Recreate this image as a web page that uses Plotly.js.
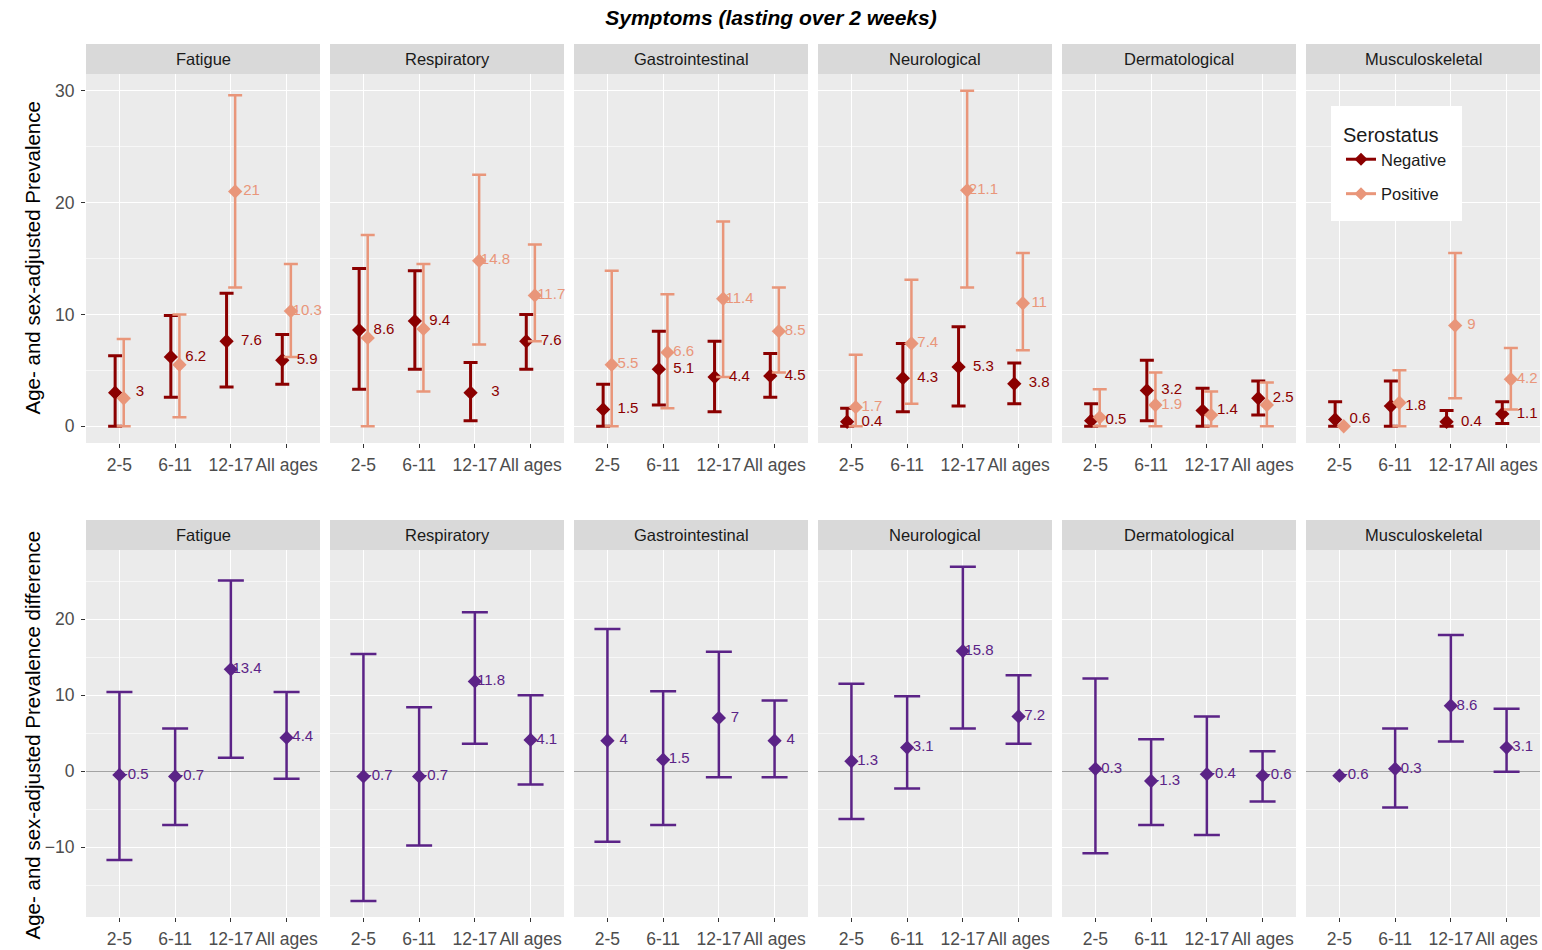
<!DOCTYPE html>
<html><head><meta charset="utf-8">
<script src="https://cdn.plot.ly/plotly-3.0.1.min.js"></script>
<style>html,body{margin:0;padding:0;background:#fff}#chart{width:1542px;height:950px}</style>
</head><body><div id="chart"></div>
<script>
// ---------------- DATA ----------------
const symptoms = ["Fatigue","Respiratory","Gastrointestinal","Neurological","Dermatological","Musculoskeletal"];
const ageGroups = ["2-5","6-11","12-17","All ages"];

// Seronegative prevalence (per symptom: 2-5, 6-11, 12-17, All ages)
const negValue = [[3,6.2,7.6,5.9],[8.6,9.4,3,7.6],[1.5,5.1,4.4,4.5],[0.4,4.3,5.3,3.8],[0.5,3.2,1.4,2.5],[0.6,1.8,0.4,1.1]];
const negLow   = [[0,2.6,3.5,3.75],[3.3,5.1,0.5,5.1],[0,1.9,1.3,2.6],[0,1.3,1.8,2.0],[0,0.5,0,1.0],[0,0,0,0.25]];
const negHigh  = [[6.3,9.9,11.9,8.2],[14.1,13.9,5.7,10.0],[3.75,8.5,7.6,6.5],[1.6,7.4,8.9,5.65],[2.0,5.9,3.4,4.05],[2.2,4.05,1.4,2.2]];

// Seropositive prevalence
const posValue = [[2.5,5.5,21,10.3],[7.9,8.7,14.8,11.7],[5.5,6.6,11.4,8.5],[1.7,7.4,21.1,11],[0.8,1.9,1.0,1.9],[0,2.1,9,4.2]];
const posLow   = [[0,0.8,12.4,6.2],[0,3.1,7.3,7.6],[0,1.6,4.4,4.8],[0,2.0,12.4,6.8],[0,0,0,0],[null,0,2.5,1.5]];
const posHigh  = [[7.8,10.0,29.6,14.5],[17.1,14.5,22.5,16.25],[13.9,11.8,18.3,12.4],[6.4,13.1,30.0,15.5],[3.3,4.8,3.1,3.9],[null,5.0,15.5,7.0]];

// Prevalence difference (positive - negative)
const diffValue = [[-0.5,-0.7,13.4,4.4],[-0.7,-0.7,11.8,4.1],[4,1.5,7,4],[1.3,3.1,15.8,7.2],[0.3,-1.3,-0.4,-0.6],[-0.6,0.3,8.6,3.1]];
const diffLow   = [[-11.7,-7.1,1.75,-1.0],[-17.1,-9.8,3.6,-1.75],[-9.3,-7.1,-0.8,-0.8],[-6.3,-2.3,5.6,3.6],[-10.8,-7.1,-8.4,-4.0],[null,-4.8,3.9,-0.1]];
const diffHigh  = [[10.4,5.6,25.1,10.4],[15.4,8.4,20.9,10.0],[18.7,10.5,15.7,9.3],[11.5,9.85,26.9,12.6],[12.2,4.2,7.2,2.6],[null,5.6,17.9,8.2]];

const seroNames = ["Negative","Positive"];

// ---------------- STYLE ----------------
const W = 1542, H = 950;
const FONT = '"Liberation Sans", Arial, sans-serif';
const NEG = '#8B0000', POS = '#E9967A', PURPLE = '#5B2387';
const DODGE = 0.077, LAB_TOP = 0.37, LAB_BOT = 0.29, LABEL_GAP = 1.0;
const PANEL_L = 86, PANEL_W = 234, PANEL_STEP = 244;
const TOP = {strip:[44,74], plot:[74,443], range:[-1.5,31.5]};
const BOT = {strip:[520,550], plot:[550,917], range:[-19.2,29.1]};
const TICK_SIZE = 17.5, STRIP_SIZE = 16.5, LABEL_SIZE = 15;

const cat = ageGroups.map((_, i) => i + 1);
const px = v => v / W, py = v => 1 - v / H;
const fmt = v => String(v);

function errObj(vals, lo, hi, color, thick, width) {
  return {
    type: 'data', symmetric: false, visible: true,
    array: vals.map((v, i) => hi[i] == null ? NaN : hi[i] - v),
    arrayminus: vals.map((v, i) => lo[i] == null ? NaN : v - lo[i]),
    color: color, thickness: thick, width: width
  };
}

const traces = [];
const layout = {
  width: W, height: H,
  margin: {l: 0, r: 0, t: 0, b: 0, autoexpand: false},
  paper_bgcolor: '#FFFFFF', plot_bgcolor: '#EBEBEB',
  font: {family: FONT, color: '#4D4D4D'},
  showlegend: true,
  title: {text: '<b><i>Symptoms (lasting over 2 weeks)</i></b>', x: 0.5, xanchor: 'center', xref: 'paper',
          y: 1 - 18 / H, yanchor: 'middle', yref: 'container', font: {family: FONT, size: 21, color: '#000000'}},
  legend: {x: px(1331), y: py(106), xanchor: 'left', yanchor: 'top', bgcolor: '#FFFFFF',
           bordercolor: '#FFFFFF', borderwidth: 10,
           title: {text: 'Serostatus ', font: {family: FONT, size: 20, color: '#1A1A1A'}},
           font: {family: FONT, size: 16.5, color: '#1A1A1A'}, itemwidth: 30, tracegroupgap: 10},
  shapes: [], annotations: []
};

function addAxes(idx, col, row) {
  const xs = idx === 1 ? 'xaxis' : 'xaxis' + idx;
  const ys = idx === 1 ? 'yaxis' : 'yaxis' + idx;
  const x0 = PANEL_L + col * PANEL_STEP;
  layout[xs] = {
    domain: [px(x0), px(x0 + PANEL_W)], anchor: 'y' + (idx === 1 ? '' : idx),
    range: [0.4, 4.6], tickmode: 'array', tickvals: cat, ticktext: ageGroups,
    showgrid: true, gridcolor: '#FFFFFF', gridwidth: 1.1, zeroline: false, showline: false,
    ticks: 'outside', ticklen: 4, tickwidth: 1, tickcolor: '#333333', ticklabelstandoff: 2,
    tickfont: {family: FONT, size: TICK_SIZE, color: '#4D4D4D'}, fixedrange: true
  };
  layout[ys] = {
    domain: [py(row.plot[1]), py(row.plot[0])], anchor: 'x' + (idx === 1 ? '' : idx),
    range: row.range, tickmode: 'linear', tick0: 0, dtick: 10,
    showgrid: true, gridcolor: '#FFFFFF', gridwidth: 1.1,
    minor: {dtick: 5, tick0: 0, showgrid: true, gridcolor: '#FAFAFA', gridwidth: 0.8, ticks: ''},
    zeroline: row === BOT, zerolinecolor: '#A3A3A3', zerolinewidth: 1.1, showline: false,
    showticklabels: col === 0, ticks: col === 0 ? 'outside' : '', ticklen: 4, tickwidth: 1, tickcolor: '#333333',
    ticklabelstandoff: 3,
    tickfont: {family: FONT, size: TICK_SIZE, color: '#4D4D4D'}, fixedrange: true
  };
  // strip
  layout.shapes.push({type: 'rect', xref: 'paper', yref: 'paper', layer: 'below',
    x0: px(x0), x1: px(x0 + PANEL_W), y0: py(row.strip[1]), y1: py(row.strip[0]),
    fillcolor: '#D9D9D9', line: {width: 0}});
  layout.annotations.push({xref: 'paper', yref: 'paper', x: px(x0 + PANEL_W / 2), y: py((row.strip[0] + row.strip[1]) / 2),
    xanchor: 'center', yanchor: 'middle', showarrow: false, text: symptoms[col],
    font: {family: FONT, size: STRIP_SIZE, color: '#1A1A1A'}});
  return {x: 'x' + (idx === 1 ? '' : idx), y: 'y' + (idx === 1 ? '' : idx)};
}

symptoms.forEach((s, c) => {
  // top row
  const a = addAxes(c + 1, c, TOP);
  traces.push({type: 'scatter', mode: 'markers', xaxis: a.x, yaxis: a.y, showlegend: false, hoverinfo: 'skip',
    x: cat.map(v => v - DODGE), y: negValue[c],
    marker: {symbol: 'diamond', size: 11, color: NEG},
    error_y: errObj(negValue[c], negLow[c], negHigh[c], NEG, 3, 7)});
  traces.push({type: 'scatter', mode: 'markers', xaxis: a.x, yaxis: a.y, showlegend: false, hoverinfo: 'skip',
    x: cat.map(v => v + DODGE), y: posValue[c],
    marker: {symbol: 'diamond', size: 11, color: POS},
    error_y: errObj(posValue[c], posLow[c], posHigh[c], POS, 2.5, 7)});
  traces.push({type: 'scatter', mode: 'text', xaxis: a.x, yaxis: a.y, showlegend: false, hoverinfo: 'skip', cliponaxis: false,
    x: cat.map(v => v + LAB_TOP), y: negValue[c], text: negValue[c].map(fmt),
    textposition: 'middle center', textfont: {family: FONT, size: LABEL_SIZE, color: NEG}});
  const posShow = posValue[c].map((v, i) => Math.abs(v - negValue[c][i]) >= LABEL_GAP);
  traces.push({type: 'scatter', mode: 'text', xaxis: a.x, yaxis: a.y, showlegend: false, hoverinfo: 'skip', cliponaxis: false,
    x: cat.map((v, i) => posShow[i] ? v + LAB_TOP : null), y: posValue[c],
    text: posValue[c].map((v, i) => posShow[i] ? fmt(v) : ''),
    textposition: 'middle center', textfont: {family: FONT, size: LABEL_SIZE, color: POS}});

  // bottom row
  const b = addAxes(c + 7, c, BOT);
  traces.push({type: 'scatter', mode: 'markers', xaxis: b.x, yaxis: b.y, showlegend: false, hoverinfo: 'skip',
    x: cat, y: diffValue[c],
    marker: {symbol: 'diamond', size: 11, color: PURPLE},
    error_y: errObj(diffValue[c], diffLow[c], diffHigh[c], PURPLE, 2.5, 13)});
  traces.push({type: 'scatter', mode: 'text', xaxis: b.x, yaxis: b.y, showlegend: false, hoverinfo: 'skip', cliponaxis: false,
    x: cat.map(v => v + LAB_BOT), y: diffValue[c], text: diffValue[c].map(fmt),
    textposition: 'middle center', textfont: {family: FONT, size: LABEL_SIZE, color: PURPLE}});
});

// legend entries
[NEG, POS].forEach((col, i) => {
  traces.push({type: 'scatter', mode: 'lines+markers', name: seroNames[i], legendgroup: 'g' + i,
    xaxis: 'x6', yaxis: 'y6', x: [null], y: [null], hoverinfo: 'skip',
    line: {color: col, width: 3}, marker: {symbol: 'diamond', size: 10, color: col}});
});

// y-axis titles
layout.annotations.push({xref: 'paper', yref: 'paper', x: px(32), y: py((TOP.plot[0] + TOP.plot[1]) / 2),
  xanchor: 'center', yanchor: 'middle', textangle: -90, showarrow: false,
  text: 'Age- and sex-adjusted Prevalence', font: {family: FONT, size: 20.5, color: '#000000'}});
layout.annotations.push({xref: 'paper', yref: 'paper', x: px(32), y: py((BOT.plot[0] + BOT.plot[1]) / 2 + 2),
  xanchor: 'center', yanchor: 'middle', textangle: -90, showarrow: false,
  text: 'Age- and sex-adjusted Prevalence difference', font: {family: FONT, size: 20.5, color: '#000000'}});

Plotly.newPlot('chart', traces, layout, {staticPlot: true, displayModeBar: false});
</script>
</body></html>
